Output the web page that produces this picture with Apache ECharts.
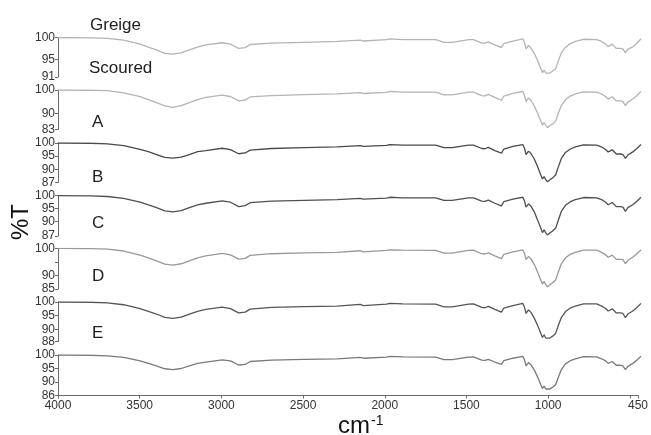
<!DOCTYPE html>
<html>
<head>
<meta charset="utf-8">
<script src="https://cdn.jsdelivr.net/npm/echarts@6/dist/echarts.min.js"></script>
<style>
  html, body { margin: 0; padding: 0; background: #fff; }
  #chart { width: 651px; height: 435px; }
</style>
</head>
<body>
<div id="chart"></div>
<script>
// wavenumber (cm-1) of every sampled point
const wavenumbers = [4000, 3800, 3700, 3600, 3500, 3450, 3400, 3350, 3300, 3250,
  3200, 3150, 3100, 3000, 2950, 2900, 2860, 2830, 2700, 2500,
  2300, 2160, 2140, 2000, 1980, 1900, 1700, 1650, 1600, 1500,
  1470, 1420, 1400, 1380, 1340, 1300, 1285, 1230, 1170, 1160,
  1150, 1135, 1120, 1100, 1080, 1060, 1050, 1040, 1030, 1020,
  1005, 990, 970, 955, 935, 910, 880, 850, 800, 720,
  690, 665, 650, 625, 600, 575, 560, 545, 530, 500,
  475, 450];

// %T
const greige = [100, 99.9, 99.8, 99.4, 98.5, 97.8, 97.2, 96.4, 96.2, 96.5,
  97.2, 97.8, 98.3, 98.8, 98.5, 97.5, 97.7, 98.4, 98.7, 98.9,
  99.1, 99.4, 99.2, 99.5, 99.7, 99.5, 99.5, 98.9, 98.9, 99.5,
  99.5, 98.7, 98.7, 99.0, 98.3, 97.7, 98.6, 99.2, 99.7, 98.9,
  97.4, 98.2, 97.6, 96.4, 94.8, 92.9, 92.0, 92.6, 91.9, 91.5,
  91.9, 92.3, 92.9, 94.5, 96.5, 97.8, 98.6, 99.1, 99.6, 99.5,
  99.1, 98.5, 97.9, 98.5, 97.5, 97.5, 97.4, 96.5, 97.3, 97.9,
  98.7, 99.7];
const scoured = [100, 99.9, 99.7, 98.8, 97.1, 95.9, 94.6, 93.2, 92.5, 93.3,
  94.6, 95.9, 96.8, 97.8, 97.2, 95.3, 95.7, 97.0, 97.6, 98.0,
  98.3, 98.9, 98.5, 99.0, 99.4, 99.1, 99.1, 97.9, 97.9, 99.1,
  99.1, 97.6, 97.5, 98.1, 96.8, 95.6, 97.4, 98.5, 99.4, 97.8,
  95.0, 96.6, 95.5, 93.1, 90.1, 86.6, 84.9, 86.0, 84.7, 83.8,
  84.7, 85.3, 86.6, 89.7, 93.3, 95.9, 97.4, 98.3, 99.2, 99.1,
  98.3, 97.2, 96.1, 97.1, 95.3, 95.3, 95.0, 93.3, 94.8, 96.1,
  97.6, 99.4];
const sampleA = [100, 99.9, 99.7, 99.0, 97.6, 96.7, 95.6, 94.5, 94.2, 94.6,
  95.6, 96.7, 97.1, 98.0, 97.5, 95.9, 96.2, 97.3, 97.9, 98.2,
  98.5, 99.0, 98.7, 99.1, 99.4, 99.2, 99.2, 98.2, 98.2, 99.2,
  99.2, 97.9, 97.8, 98.3, 97.1, 96.1, 97.7, 98.7, 99.4, 98.1,
  95.6, 96.9, 96.0, 93.9, 91.0, 87.8, 86.3, 87.2, 86.0, 85.2,
  86.0, 86.6, 87.8, 90.6, 94.1, 96.4, 97.7, 98.5, 99.3, 99.2,
  98.5, 97.5, 96.6, 97.4, 95.8, 95.8, 95.6, 94.1, 95.4, 96.6,
  97.9, 99.4];
const sampleB = [100, 99.9, 99.7, 99.0, 97.5, 96.5, 95.4, 94.2, 93.8, 94.3,
  95.4, 96.5, 97.1, 98.0, 97.5, 95.8, 96.2, 97.3, 97.9, 98.2,
  98.5, 99.0, 98.7, 99.1, 99.4, 99.2, 99.2, 98.2, 98.2, 99.2,
  99.2, 97.9, 97.8, 98.3, 97.1, 96.1, 97.7, 98.7, 99.4, 98.1,
  95.6, 96.9, 96.0, 93.8, 90.7, 87.5, 85.8, 86.9, 85.7, 84.9,
  85.7, 86.3, 87.5, 90.3, 94.0, 96.3, 97.7, 98.5, 99.3, 99.2,
  98.5, 97.5, 96.5, 97.4, 95.8, 95.8, 95.6, 94.0, 95.4, 96.5,
  97.9, 99.4];
const sampleC = [100, 99.9, 99.7, 99.0, 97.5, 96.5, 95.4, 94.2, 93.8, 94.3,
  95.4, 96.5, 97.2, 98.1, 97.6, 96.0, 96.3, 97.4, 98.0, 98.3,
  98.5, 99.1, 98.7, 99.2, 99.4, 99.3, 99.2, 98.2, 98.2, 99.2,
  99.3, 98.0, 97.9, 98.3, 97.2, 96.2, 97.8, 98.7, 99.4, 98.2,
  95.8, 97.0, 96.1, 94.1, 91.3, 88.3, 86.8, 87.8, 86.6, 85.8,
  86.6, 87.2, 88.3, 91.0, 94.3, 96.5, 97.8, 98.5, 99.3, 99.3,
  98.5, 97.6, 96.7, 97.5, 95.9, 95.9, 95.8, 94.3, 95.6, 96.7,
  98.0, 99.4];
const sampleD = [100, 99.9, 99.7, 99.0, 97.6, 96.6, 95.6, 94.4, 94.0, 94.5,
  95.6, 96.6, 97.3, 98.1, 97.6, 96.0, 96.3, 97.4, 98.0, 98.3,
  98.5, 99.1, 98.7, 99.2, 99.5, 99.3, 99.2, 98.2, 98.2, 99.2,
  99.3, 98.0, 97.9, 98.4, 97.3, 96.3, 97.8, 98.7, 99.5, 98.2,
  95.8, 97.1, 96.2, 94.1, 91.5, 88.5, 87.0, 88.0, 86.8, 86.1,
  86.8, 87.4, 88.5, 91.1, 94.3, 96.5, 97.8, 98.5, 99.3, 99.3,
  98.5, 97.6, 96.7, 97.5, 96.0, 96.0, 95.8, 94.3, 95.6, 96.7,
  98.0, 99.5];
const sampleE = [100, 99.9, 99.7, 99.1, 97.8, 96.9, 96.0, 94.9, 94.6, 95.0,
  96.0, 96.9, 97.4, 98.2, 97.8, 96.3, 96.5, 97.6, 98.1, 98.4,
  98.6, 99.1, 98.8, 99.2, 99.5, 99.3, 99.2, 98.3, 98.3, 99.2,
  99.3, 98.1, 98.0, 98.4, 97.4, 96.5, 97.9, 98.8, 99.5, 98.3,
  96.0, 97.2, 96.4, 94.5, 91.9, 89.0, 87.6, 88.5, 87.4, 86.7,
  87.4, 88.0, 89.0, 91.5, 94.6, 96.7, 97.9, 98.6, 99.4, 99.3,
  98.6, 97.8, 96.9, 97.6, 96.2, 96.2, 96.0, 94.6, 95.8, 96.9,
  98.1, 99.5];

const panelNames = ['Greige', 'Scoured', 'A', 'B', 'C', 'D', 'E'];
const panelSeries = [greige, scoured, sampleA, sampleB, sampleC, sampleD, sampleE];
const yMax = 100;
const yMins = [91, 83, 85, 84.5, 85, 85.5, 85];
const yTicks = [
  [100, 95, 91], [100, 90, 83], [100, 95, 90, 85], [100, 95, 90, 84.5],
  [100, 95, 90, 85], [100, 95, 90, 85.5], [100, 95, 90, 85]
];
const yTickText = [
  ['100', '95', '91'], ['100', '90', '83'], ['100', '95', '90', '87'], ['100', '95', '90', '87'],
  ['100', '', '90', '85'], ['100', '95', '90', '88'], ['100', '95', '90', '86']
];
const xMin = 450;
const xMax = 4000;
const xTicks = [4000, 3500, 3000, 2500, 2000, 1500, 1000, 500, 450];
const xTickLabels = [4000, 3500, 3000, 2500, 2000, 1500, 1000, 450];

// layout (pixels) and styling
const gridTops = [37.5, 90, 143, 195.7, 248.3, 302, 355];
const gridHeights = [39.5, 39.5, 39.3, 40.3, 40.7, 39.6, 40.5];
const lineColors = ['#b4b4b4', '#b4b4b4', '#4a4a4a', '#505050', '#999999', '#555555', '#7a7a7a'];
const labelPos = [[90, 25], [89, 68], [92, 122], [92, 177.5], [92, 223.5], [92, 276], [92, 333]];

const axisGray = '#6a6a6a';
const tickFont = { fontFamily: 'Liberation Sans, Arial, sans-serif', fontSize: 12, color: '#333' };
const last = panelNames.length - 1;
const scaleIdx = panelNames.length; // extra grid holding only the wavenumber scale

const chart = echarts.init(document.getElementById('chart'));

const panelGrids = panelNames.map((_, i) => ({
  left: 58, right: 10, top: gridTops[i], height: gridHeights[i]
}));

const option = {
  animation: false,
  backgroundColor: '#fff',
  grid: [...panelGrids, { left: 58, right: 10, top: gridTops[last], height: gridHeights[last] }],
  xAxis: [
    ...panelNames.map((_, i) => ({
      gridIndex: i, type: 'value', min: xMin, max: xMax, inverse: true, show: false
    })),
    {
      gridIndex: scaleIdx,
      type: 'value',
      min: xMin,
      max: xMax,
      inverse: true,
      splitLine: { show: false },
      axisLine: { show: true, lineStyle: { color: axisGray, width: 1 } },
      axisTick: { show: true, length: 3, customValues: xTicks, lineStyle: { color: axisGray } },
      axisLabel: {
        ...tickFont,
        margin: 4,
        customValues: xTickLabels,
        formatter: (v) => String(v)
      }
    }
  ],
  yAxis: [
    ...panelNames.map((_, i) => ({
      gridIndex: i,
      type: 'value',
      min: yMins[i],
      max: yMax,
      splitLine: { show: false },
      axisLine: { show: true, lineStyle: { color: axisGray, width: 1 } },
      axisTick: { show: true, length: 3, customValues: yTicks[i], lineStyle: { color: axisGray } },
      axisLabel: {
        ...tickFont,
        margin: 3,
        hideOverlap: false,
        showMinLabel: true,
        showMaxLabel: true,
        customValues: yTicks[i],
        formatter: (v) => {
          const k = yTicks[i].indexOf(v);
          return k >= 0 ? yTickText[i][k] : '';
        }
      }
    })),
    { gridIndex: scaleIdx, type: 'value', min: 0, max: 1, show: false }
  ],
  series: panelNames.map((name, i) => ({
    name: name,
    type: 'line',
    xAxisIndex: i,
    yAxisIndex: i,
    showSymbol: false,
    lineStyle: { color: lineColors[i], width: 1.3 },
    data: wavenumbers.map((w, k) => [w, panelSeries[i][k]])
  })),
  graphic: [
    ...panelNames.map((name, i) => ({
      type: 'text',
      x: labelPos[i][0],
      y: labelPos[i][1],
      style: {
        text: name,
        fill: '#222',
        font: '17px Liberation Sans, Arial, sans-serif',
        textVerticalAlign: 'middle'
      }
    })),
    {
      type: 'text',
      x: 21,
      y: 222,
      rotation: Math.PI / 2,
      style: {
        text: '%T',
        fill: '#111',
        font: '24px Liberation Sans, Arial, sans-serif',
        textAlign: 'center',
        textVerticalAlign: 'middle'
      }
    },
    {
      type: 'text',
      x: 338,
      y: 414,
      style: {
        text: '{a|cm}{b|-1}',
        fill: '#111',
        rich: {
          a: { fontSize: 24, fontFamily: 'Liberation Sans, Arial, sans-serif', lineHeight: 24, verticalAlign: 'bottom', fill: '#111' },
          b: { fontSize: 14, fontFamily: 'Liberation Sans, Arial, sans-serif', lineHeight: 24, verticalAlign: 'top', padding: [0, 0, 0, 1], fill: '#111' }
        }
      }
    }
  ]
};

chart.setOption(option);
</script>
</body>
</html>
